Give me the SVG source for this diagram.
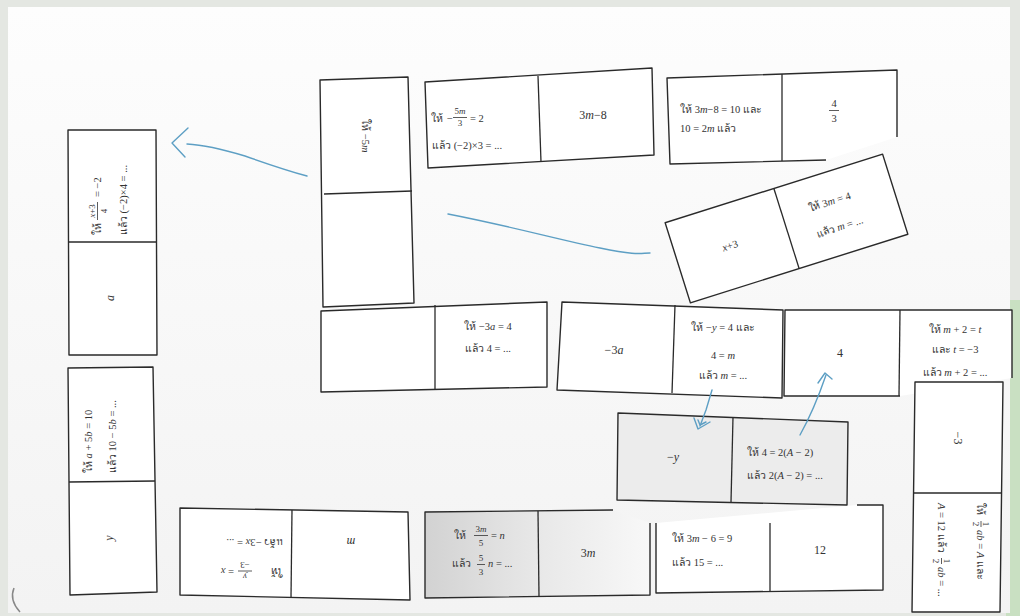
<svg xmlns="http://www.w3.org/2000/svg" width="1020" height="616" viewBox="0 0 1020 616">
<defs>
<style>
.card{fill:#fff;stroke:#2a2a2a;stroke-width:1.4;stroke-linejoin:round}
.dv{stroke:#2a2a2a;stroke-width:1.3;fill:none}
.t{font-family:"Liberation Serif","Noto Sans CJK SC",serif;font-size:10.5px;fill:#333}
.s{font-size:9px}
.b{font-size:12px}
.i{font-style:italic}
.m{text-anchor:middle}
.fb{stroke:#333;stroke-width:0.8}
.pen{fill:none;stroke:#5d9fc4;stroke-width:1.4;stroke-linecap:round;stroke-linejoin:round}
</style>
<linearGradient id="shade" x1="0" x2="1" y1="0" y2="0">
<stop offset="0" stop-color="#d2d2d2"/><stop offset="0.5" stop-color="#e8e8e8"/><stop offset="1" stop-color="#f8f8f8"/>
</linearGradient>
<linearGradient id="page" x1="0" x2="0" y1="0" y2="1">
<stop offset="0" stop-color="#fdfdfd"/><stop offset="1" stop-color="#f3f3f3"/>
</linearGradient>
</defs>

<rect x="0" y="0" width="1020" height="616" fill="#e4e7e2"/>
<rect x="1006" y="300" width="14" height="316" fill="#c9e0c2"/>
<rect x="8" y="7" width="1002" height="606" fill="url(#page)"/>
<path d="M20,612 Q9,600 14,588" fill="none" stroke="#888" stroke-width="1.5"/>

<g id="card-x3-over-4">
<polygon class="card" points="68,130 156,130 157,355 69,355"/>
<line class="dv" x1="68" y1="242" x2="157" y2="242"/>
<g transform="translate(112,192) rotate(-90)">
<text class="t" x="-43" y="-11">ให้</text>
<text class="t s m" x="-19" y="-17"><tspan class="i">x</tspan>+3</text>
<line class="fb" x1="-28" y1="-14.5" x2="-10" y2="-14.5"/>
<text class="t s m" x="-19" y="-5">4</text>
<text class="t" x="-5" y="-11">= −2</text>
<text class="t" x="-43" y="15">แล้ว (−2)×4 = ...</text>
</g>
<text class="t b i m" transform="translate(110,298) rotate(-90)" y="4">a</text>
</g>

<g id="card-a5b">
<polygon class="card" points="68,368 153,367 157,592 70,595"/>
<line class="dv" x1="69" y1="482" x2="155" y2="481"/>
<g transform="translate(100,441) rotate(-90)">
<text class="t" x="-32" y="-8">ให้ <tspan class="i">a</tspan> + 5<tspan class="i">b</tspan> = 10</text>
<text class="t" x="-32" y="16">แล้ว 10 − 5<tspan class="i">b</tspan> = ...</text>
</g>
<text class="t b i m" transform="translate(109,538) rotate(-90)" y="4">y</text>
</g>

<g id="card-5m">
<polygon class="card" points="320,80 408,77 414,303 323,307"/>
<line class="dv" x1="324" y1="194" x2="412" y2="191"/>
<text class="t m" transform="translate(366,136) rotate(90)" y="4">ให้ −5<tspan class="i">m</tspan></text>
</g>

<g id="card-5m3">
<polygon class="card" points="425,82 652,68 654,155 428,168"/>
<line class="dv" x1="538" y1="76" x2="541" y2="162"/>
<text class="t" x="431" y="122">ให้</text>
<text class="t" x="447" y="122">−</text>
<text class="t s m" x="460" y="114">5<tspan class="i">m</tspan></text>
<line class="fb" x1="453" y1="117.5" x2="467" y2="117.5"/>
<text class="t s m" x="460" y="126">3</text>
<text class="t" x="470" y="122">= 2</text>
<text class="t" x="432" y="149">แล้ว (−2)×3 = ...</text>
<text class="t b m" x="593" y="119">3<tspan class="i">m</tspan>−8</text>
</g>

<g id="card-3m8">
<path class="card" d="M826,160 L670,164 L667,78 L897,70 L897,137"/>
<line class="dv" x1="782" y1="74" x2="782" y2="161"/>
<text class="t" x="680" y="113">ให้ 3<tspan class="i">m</tspan>−8 = 10  และ</text>
<text class="t" x="680" y="132">10 = 2<tspan class="i">m</tspan> แล้ว</text>
<text class="t m" x="834" y="107">4</text>
<line class="fb" x1="829" y1="110.5" x2="839" y2="110.5"/>
<text class="t m" x="834" y="122">3</text>
</g>

<g id="card-x3-tilt" transform="translate(786.5,228.5) rotate(-17.5)">
<rect class="card" x="-114" y="-42" width="228" height="84"/>
<line class="dv" x1="0" y1="-42" x2="0" y2="42"/>
<text class="t m" x="-59" y="3"><tspan class="i">x</tspan>+3</text>
<text class="t" x="27" y="-9">ให้ 3<tspan class="i">m</tspan> = 4</text>
<text class="t" x="27" y="18">แล้ว <tspan class="i">m</tspan> = ...</text>
</g>

<g id="card-3a">
<polygon class="card" points="321,311 547,302 547,387 321,392"/>
<line class="dv" x1="435" y1="305" x2="435" y2="390"/>
<text class="t m" x="488" y="330">ให้ −3<tspan class="i">a</tspan> = 4</text>
<text class="t m" x="488" y="352">แล้ว 4 = ...</text>
</g>

<g id="card-neg3a">
<polygon class="card" points="562,302 783,310 782,398 557,390"/>
<line class="dv" x1="675" y1="305" x2="672" y2="393"/>
<text class="t b m" x="614" y="354">−3<tspan class="i">a</tspan></text>
<text class="t m" x="723" y="331">ให้ −<tspan class="i">y</tspan> = 4 และ</text>
<text class="t m" x="723" y="359">4 = <tspan class="i">m</tspan></text>
<text class="t m" x="723" y="379">แล้ว <tspan class="i">m</tspan> = ...</text>
</g>

<g id="card-4">
<path class="card" d="M900,396 L784,396 L785,310 L1012,310 L1012,378"/>
<line class="dv" x1="900" y1="310" x2="899" y2="396"/>
<text class="t b m" x="840" y="357">4</text>
<text class="t m" x="955" y="333">ให้ <tspan class="i">m</tspan> + 2 = <tspan class="i">t</tspan></text>
<text class="t m" x="955" y="353">และ <tspan class="i">t</tspan> = −3</text>
<text class="t m" x="955" y="376">แล้ว <tspan class="i">m</tspan> + 2 = ...</text>
</g>

<g id="card-neg3">
<polygon class="card" points="915,382 1003,382 1000,612 912,612"/>
<line class="dv" x1="913" y1="493" x2="1001" y2="493"/>
<text class="t b m" transform="translate(958,438) rotate(90)" y="4">−3</text>
<g transform="translate(960,548) rotate(90)">
<text class="t" x="-45" y="-17">ให้</text>
<text class="t s m" x="-24" y="-23">1</text>
<line class="fb" x1="-27" y1="-21" x2="-21" y2="-21"/>
<text class="t s m" x="-24" y="-13">2</text>
<text class="t" x="-18" y="-17"><tspan class="i">ab</tspan> = <tspan class="i">A</tspan>  และ</text>
<text class="t" x="-45" y="22"><tspan class="i">A</tspan> = 12 แล้ว</text>
<text class="t s m" x="13" y="16">1</text>
<line class="fb" x1="10" y1="18.5" x2="16" y2="18.5"/>
<text class="t s m" x="13" y="27">2</text>
<text class="t" x="19" y="22"><tspan class="i">ab</tspan> = ...</text>
</g>
</g>

<g id="card-12">
<path class="card" d="M656,523 L656,593 L883,590 L883,505 L857,505"/>
<line class="dv" x1="770" y1="523" x2="770" y2="591"/>
<text class="t" x="672" y="542">ให้ 3<tspan class="i">m</tspan> − 6 = 9</text>
<text class="t" x="672" y="566">แล้ว 15 = ...</text>
<text class="t b m" x="820" y="554">12</text>
</g>

<g id="card-neg-y">
<polygon class="card" style="fill:#ececec" points="618,413 848,422 847,505 617,500"/>
<line class="dv" x1="733" y1="417" x2="731" y2="502"/>
<text class="t b m" x="673" y="461">−<tspan class="i">y</tspan></text>
<text class="t" x="747" y="456">ให้ 4 = 2(<tspan class="i">A</tspan> − 2)</text>
<text class="t" x="747" y="479">แล้ว 2(<tspan class="i">A</tspan> − 2) = ...</text>
</g>

<g id="card-y-3">
<polygon class="card" points="180,508 408,512 410,600 180,595"/>
<line class="dv" x1="292" y1="510" x2="291" y2="598"/>
<g transform="rotate(180 250 557)">
<text class="t" x="217" y="546">ให้</text>
<text class="t s i m" x="255" y="540">y</text>
<line class="fb" x1="248" y1="543" x2="262" y2="543"/>
<text class="t s m" x="255" y="552">−3</text>
<text class="t" x="266" y="546">= <tspan class="i">x</tspan></text>
<text class="t" x="217" y="575">แล้ว −3<tspan class="i">x</tspan> = ...</text>
<text class="t b i m" x="149" y="576">m</text>
</g>
</g>

<g id="card-3m5">
<path class="card" style="fill:url(#shade)" d="M613,510 L425,512 L425,598 L650,595 L650,523"/>
<line class="dv" x1="538" y1="511" x2="539" y2="597"/>
<text class="t" x="454" y="539">ให้</text>
<text class="t s m" x="481" y="532">3<tspan class="i">m</tspan></text>
<line class="fb" x1="474" y1="535.5" x2="488" y2="535.5"/>
<text class="t s m" x="481" y="546">5</text>
<text class="t" x="491" y="539">= <tspan class="i">n</tspan></text>
<text class="t" x="452" y="567">แล้ว</text>
<text class="t s m" x="481" y="561">5</text>
<line class="fb" x1="477" y1="564.5" x2="485" y2="564.5"/>
<text class="t s m" x="481" y="575">3</text>
<text class="t" x="488" y="567"><tspan class="i">n</tspan> = ...</text>
<text class="t b m" x="588" y="557">3<tspan class="i">m</tspan></text>
</g>

<g id="connectors">
<path class="pen" d="M307,176 C285,170 262,162 245,156 C225,150 205,145 187,144"/>
<path class="pen" d="M188,128 L172,143 L185,157"/>
<path class="pen" d="M448,214 C510,226 560,240 600,248 S640,253 650,253"/>
<path class="pen" d="M712,390 L706,410 L700,426"/>
<path class="pen" d="M694,418 L698,429 L710,422"/>
<path class="pen" d="M698,420 L700,425 L706,422"/>
<path class="pen" d="M800,435 Q814,410 826,375"/>
<path class="pen" d="M818,383 L825,373 L832,379"/>
</g>
</svg>
